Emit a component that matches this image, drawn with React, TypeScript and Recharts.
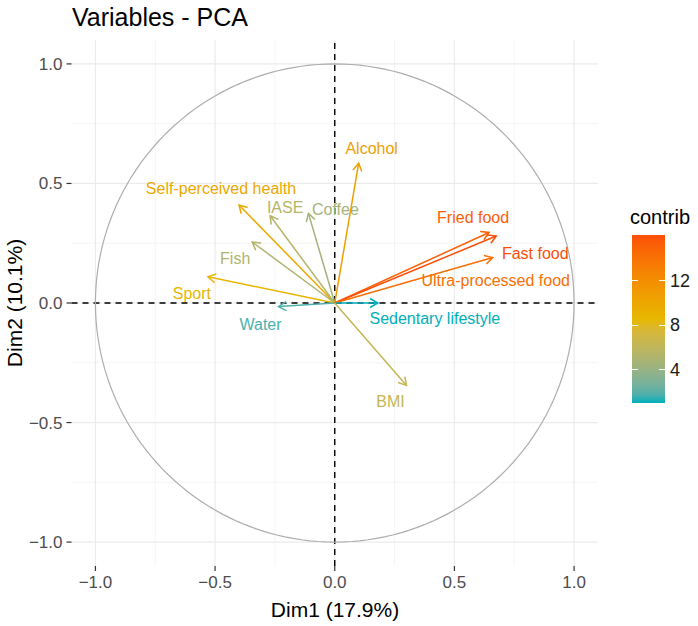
import React from "react";
import { ScatterChart, Scatter, XAxis, YAxis, ReferenceLine } from "recharts";

const variables = [
  "Self-perceived health",
  "IASE",
  "Coffee",
  "Fish",
  "Sport",
  "Water",
  "Alcohol",
  "Fried food",
  "Fast food",
  "Ultra-processed food",
  "Sedentary lifestyle",
  "BMI",
];
const dim1 = [-0.4, -0.27, -0.11, -0.345, -0.53, -0.235, 0.1, 0.645, 0.675, 0.66, 0.18, 0.3];
const dim2 = [0.41, 0.365, 0.375, 0.255, 0.11, -0.015, 0.585, 0.295, 0.28, 0.19, 0.0, -0.345];
const contrib = [9.9, 5.4, 4.5, 5.2, 8.8, 1.7, 10.6, 15.1, 16.1, 14.2, 1.0, 6.3];

const axisTicks = [-1, -0.5, 0, 0.5, 1];
const minorTicks = [-0.75, -0.25, 0.25, 0.75];
const legendTicks = [4, 8, 12];
const gradientCols = ["#00AFBB", "#E7B800", "#FC4E07"];

// labels were repelled in the original, offsets in px from the arrow tip
const labelOffsets: [number, number][] = [
  [-18, -16], [15, -8], [27, -4], [-17, 16], [-16, 17], [-18, 18],
  [13, -15], [-16, -15], [39, 17], [3, 23], [57, 15], [-16, 16],
];

const FONT = "'Liberation Sans', Arial, sans-serif";

// colour scale in Lab space like ggplot's gradientn
const toLab = (hex: string) => {
  const c = [1, 3, 5].map((k) => parseInt(hex.slice(k, k + 2), 16) / 255);
  const [r, g, b] = c.map((v) => (v <= 0.04045 ? v / 12.92 : Math.pow((v + 0.055) / 1.055, 2.4)));
  const X = (0.4124 * r + 0.3576 * g + 0.1805 * b) / 0.95047;
  const Y = 0.2126 * r + 0.7152 * g + 0.0722 * b;
  const Z = (0.0193 * r + 0.1192 * g + 0.9505 * b) / 1.08883;
  const f = (t: number) => (t > 0.008856 ? Math.cbrt(t) : 7.787 * t + 16 / 116);
  const fx = f(X), fy = f(Y), fz = f(Z);
  return [116 * fy - 16, 500 * (fx - fy), 200 * (fy - fz)];
};
const fromLab = ([L, A, B]: number[]) => {
  const fy = (L + 16) / 116;
  const fx = fy + A / 500;
  const fz = fy - B / 200;
  const inv = (t: number) => (t * t * t > 0.008856 ? t * t * t : (t - 16 / 116) / 7.787);
  const X = inv(fx) * 0.95047, Y = inv(fy), Z = inv(fz) * 1.08883;
  const lin = [
    3.2406 * X - 1.5372 * Y - 0.4986 * Z,
    -0.9689 * X + 1.8758 * Y + 0.0415 * Z,
    0.0557 * X - 0.204 * Y + 1.057 * Z,
  ];
  const s = lin.map((v) => {
    const w = v <= 0.0031308 ? 12.92 * v : 1.055 * Math.pow(v, 1 / 2.4) - 0.055;
    return Math.round(Math.min(1, Math.max(0, w)) * 255);
  });
  return `rgb(${s[0]},${s[1]},${s[2]})`;
};
const labs = gradientCols.map(toLab);
const cMin = Math.min(...contrib);
const cMax = Math.max(...contrib);
const colorAt = (t: number) => {
  const seg = t <= 0.5 ? 0 : 1;
  const u = seg === 0 ? t * 2 : (t - 0.5) * 2;
  const a = labs[seg], b = labs[seg + 1];
  return fromLab(a.map((v, k) => v + (b[k] - v) * u));
};
const colorFor = (v: number) => colorAt((v - cMin) / (cMax - cMin));

const fmt = (v: number) => (v < 0 ? "\u2212" : "") + Math.abs(v).toFixed(1);

// unit correlation circle (guide, not data)
const circle = Array.from({ length: 181 }, (_, k) => {
  const a = (k / 180) * 2 * Math.PI;
  return { x: Math.cos(a), y: Math.sin(a) };
});

const ArrowTip = (props: any) => {
  const { cx, cy, payload, color, name, off } = props;
  if (!payload || !payload.tip) return <g />;
  const ang = Math.atan2(-payload.y, payload.x);
  const L = 9;
  const h = (d: number) => ({
    x: cx - L * Math.cos(ang + d),
    y: cy - L * Math.sin(ang + d),
  });
  const p1 = h(Math.PI / 6);
  const p2 = h(-Math.PI / 6);
  return (
    <g>
      <polyline
        points={`${p1.x},${p1.y} ${cx},${cy} ${p2.x},${p2.y}`}
        fill="none"
        stroke={color}
        strokeWidth={1.5}
      />
      <text
        x={cx + off[0]}
        y={cy + off[1]}
        textAnchor="middle"
        dominantBaseline="central"
        fill={color}
        fontSize={16}
        fontFamily={FONT}
      >
        {name}
      </text>
    </g>
  );
};

export default function App() {
  const barTop = 235;
  const barH = 168;
  const stops = Array.from({ length: 21 }, (_, k) => `${colorAt(k / 20)} ${k * 5}%`).join(", ");

  return (
    <div style={{ position: "absolute", left: 0, top: 0, width: 698, height: 626, fontFamily: FONT, background: "#fff" }}>
      <div style={{ position: "absolute", left: 72, top: 2, fontSize: 25, color: "#000", lineHeight: "30px" }}>
        Variables - PCA
      </div>
      <ScatterChart
        width={698}
        height={626}
        margin={{ top: 40, right: 100, bottom: 20, left: 21.5 }}
        style={{ fontFamily: FONT }}
      >
        <XAxis
          type="number"
          dataKey="x"
          domain={[-1.1, 1.1]}
          ticks={axisTicks}
          allowDataOverflow
          axisLine={false}
          tickLine={{ stroke: "#333", strokeWidth: 1.2 }}
          tickSize={5}
          tickMargin={5}
          tick={{ fill: "#4D4D4D", fontSize: 17 }}
          tickFormatter={fmt}
          height={40}
        />
        <YAxis
          type="number"
          dataKey="y"
          domain={[-1.1, 1.1]}
          ticks={axisTicks}
          allowDataOverflow
          axisLine={false}
          tickLine={{ stroke: "#333", strokeWidth: 1.2 }}
          tickSize={5}
          tickMargin={4}
          tick={{ fill: "#4D4D4D", fontSize: 17 }}
          tickFormatter={fmt}
          width={50}
        />
        {minorTicks.map((v) => (
          <ReferenceLine key={"mx" + v} x={v} stroke="#F3F3F3" strokeWidth={0.8} />
        ))}
        {minorTicks.map((v) => (
          <ReferenceLine key={"my" + v} y={v} stroke="#F3F3F3" strokeWidth={0.8} />
        ))}
        {axisTicks.map((v) => (
          <ReferenceLine key={"gx" + v} x={v} stroke="#EBEBEB" strokeWidth={1.2} />
        ))}
        {axisTicks.map((v) => (
          <ReferenceLine key={"gy" + v} y={v} stroke="#EBEBEB" strokeWidth={1.2} />
        ))}
        <Scatter
          data={circle}
          isAnimationActive={false}
          line={{ stroke: "#ADADAD", strokeWidth: 1.2 }}
          lineType="joint"
          shape={() => <g />}
        />
        <ReferenceLine x={0} stroke="#000" strokeDasharray="6 5" strokeWidth={1.4} />
        <ReferenceLine y={0} stroke="#000" strokeDasharray="6 5" strokeWidth={1.4} />
        {variables.map((name, i) => {
          const col = colorFor(contrib[i]);
          const data = [
            { x: 0, y: 0, tip: false },
            { x: dim1[i], y: dim2[i], tip: true },
          ];
          return (
            <Scatter
              key={name}
              data={data}
              isAnimationActive={false}
              fill={col}
              line={{ stroke: col, strokeWidth: 1.5 }}
              lineType="joint"
              shape={(p: any) => <ArrowTip {...p} color={col} name={name} off={labelOffsets[i]} />}
            />
          );
        })}
      </ScatterChart>
      <div style={{ position: "absolute", left: 0, width: 670, top: 596, textAlign: "center", fontSize: 21, color: "#000", lineHeight: "28px" }}>
        Dim1 (17.9%)
      </div>
      <div
        style={{
          position: "absolute",
          left: 15,
          top: 303,
          transform: "translate(-50%, -50%) rotate(-90deg)",
          fontSize: 21,
          color: "#000",
          whiteSpace: "nowrap",
          lineHeight: "28px",
        }}
      >
        Dim2 (10.1%)
      </div>
      <div style={{ position: "absolute", left: 630, top: 204, fontSize: 20, color: "#000", lineHeight: "26px" }}>
        contrib
      </div>
      <div
        style={{
          position: "absolute",
          left: 632,
          top: barTop,
          width: 33,
          height: barH,
          background: `linear-gradient(to top, ${stops})`,
        }}
      />
      {legendTicks.map((v) => {
        const y = barTop + barH - ((v - cMin) / (cMax - cMin)) * barH;
        return (
          <React.Fragment key={v}>
            <div style={{ position: "absolute", left: 632, top: y - 0.5, width: 6, height: 1, background: "#fff" }} />
            <div style={{ position: "absolute", left: 659, top: y - 0.5, width: 6, height: 1, background: "#fff" }} />
            <div style={{ position: "absolute", left: 670, top: y - 11, fontSize: 18, color: "#1A1A1A", lineHeight: "22px" }}>
              {v}
            </div>
          </React.Fragment>
        );
      })}
    </div>
  );
}
